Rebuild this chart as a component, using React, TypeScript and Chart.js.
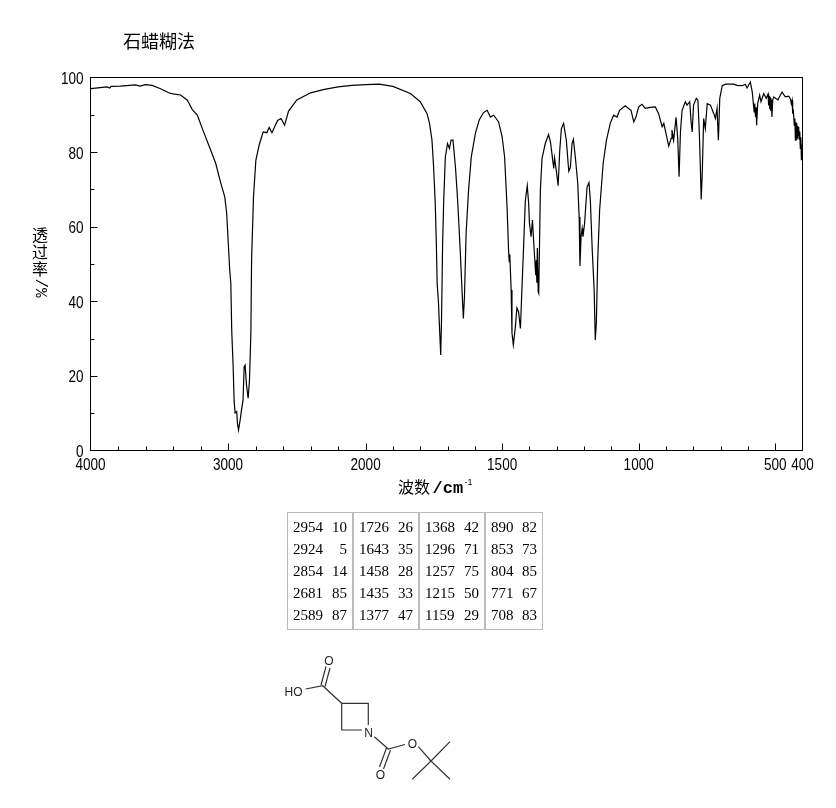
import { useEffect, useRef } from 'react';
import { Chart, LinearScale, registerables } from 'chart.js';

// x axis is compressed above 2000 cm-1, like the printed IR charts
const SPLIT_WAVENUMBER = 2000;
const SPLIT_FRACTION = 0.3864;

const majorTicks = [4000, 3000, 2000, 1500, 1000, 500];
const minorTicks = [
  3800, 3600, 3400, 3200, 2800, 2600, 2400, 2200, 1900, 1800, 1700, 1600, 1400, 1300, 1200, 1100,
  900, 800, 700, 600,
];
const labelledTicks = [4000, 3000, 2000, 1500, 1000, 500, 400];

const waveNumbers = [
  3997, 3930, 3880, 3860, 3850, 3783, 3674, 3640, 3600, 3552, 3491, 3431, 3400, 3345, 3296, 3260, 3223, 3187, 3126, 3090, 3053, 3024,
  3010, 2997, 2988, 2980, 2973, 2963, 2956, 2949, 2937, 2932, 2924, 2912, 2902, 2891, 2883, 2876,
  2866, 2854, 2844, 2834, 2829, 2815, 2798, 2774, 2745, 2718, 2701, 2681, 2640, 2615, 2589, 2560,
  2500, 2400, 2300, 2200, 2100, 2000, 1950, 1900, 1836, 1800, 1775, 1766, 1757, 1751, 1745, 1741,
  1738, 1733, 1729, 1725, 1722, 1718, 1714, 1708, 1700, 1693, 1687, 1680, 1671, 1663, 1653, 1647,
  1642, 1638, 1632, 1623, 1613, 1598, 1584, 1568, 1555, 1543, 1531, 1513, 1500, 1491, 1482, 1476,
  1474, 1472, 1467, 1464, 1459, 1452, 1446, 1440, 1433, 1427, 1421, 1415, 1408, 1403, 1400, 1394,
  1389, 1382, 1377, 1375, 1373, 1371, 1368, 1366, 1360, 1354, 1342, 1330, 1323, 1317, 1311, 1308, 1301, 1295, 1289,
  1283, 1275, 1265, 1256, 1250, 1244, 1239, 1232, 1223, 1218, 1215, 1211, 1207, 1204, 1198, 1189,
  1182, 1177, 1170, 1163, 1159, 1155, 1150, 1143, 1130, 1118, 1104, 1092, 1079, 1070, 1049, 1037,
  1028, 1018, 1010, 1000, 988, 976, 957, 939, 927, 914, 908, 900, 890, 881, 878, 872, 863, 857, 852,
  847, 841, 829, 823, 813, 808, 804, 799, 789, 783, 778, 774, 771, 767, 762, 756, 749, 737, 725, 719,
  713, 708, 703, 694, 682, 652, 640, 621, 609, 603, 591, 584, 577, 575, 572, 570, 568, 564, 557, 552, 542, 533,
  526, 524, 522, 520, 518, 516, 514, 512, 509, 505, 490, 475, 463, 450, 444, 441, 438, 436, 434, 430, 428, 426, 424, 423, 421, 419, 418, 416, 414, 412, 410, 408, 406, 404, 403, 401,
];
const transmittance = [
  97.0, 97.3, 97.5, 97.2, 97.6, 97.7, 98.0, 97.7, 98.1, 97.9, 97.0, 95.9, 95.6, 95.3, 93.9, 91.4, 89.9, 86.3, 80.5, 77.0, 71.7, 68.0,
  63.6, 54.6, 48.4, 44.9, 31.8, 22.5, 13.5, 10.1, 10.4, 7.4, 5.5, 8.2, 10.9, 13.5, 22.5, 22.9,
  17.6, 14.0, 18.9, 31.8, 51.0, 68.0, 77.8, 81.9, 85.4, 85.2, 86.6, 85.2, 88.5, 89.0, 87.2, 91.0,
  94.0, 95.9, 96.8, 97.5, 97.9, 98.1, 98.2, 97.6, 95.7, 93.5, 90.3, 87.7, 83.2, 76.0, 66.2, 55.5,
  44.8, 39.4, 32.3, 25.6, 35.0, 55.5, 67.1, 78.7, 82.3, 81.0, 83.2, 83.2, 76.0, 67.1, 52.8, 43.0,
  35.4, 41.2, 58.2, 69.8, 78.7, 85.0, 88.6, 90.6, 91.2, 89.4, 89.9, 88.1, 84.1, 78.7, 65.3, 52.8,
  50.6, 52.6, 43.0, 31.5, 28.3, 32.8, 38.2, 37.2, 32.7, 44.3, 55.5, 67.1, 71.0, 66.3, 61.0, 57.3,
  61.8, 52.8, 47.0, 51.0, 45.0, 54.3, 42.5, 42.1, 69.8, 78.3, 82.3, 84.7, 82.7, 79.2, 75.6, 78.4, 74.7, 71.0, 80.5,
  86.3, 87.7, 83.2, 74.9, 76.0, 82.3, 83.4, 78.7, 71.6, 62.6, 49.5, 57.3, 59.5, 57.3, 60.9, 70.7,
  71.8, 67.1, 53.7, 43.0, 29.6, 34.2, 51.0, 64.4, 77.0, 83.2, 87.7, 89.9, 89.4, 91.2, 92.4, 91.7,
  91.2, 88.1, 89.4, 92.1, 92.8, 91.7, 92.0, 92.1, 90.3, 86.8, 87.7, 85.0, 81.6, 83.7, 85.9, 83.2, 89.3, 83.7, 73.4,
  85.4, 91.2, 93.5, 92.6, 93.5, 88.1, 85.4, 92.6, 94.4, 93.9, 85.4, 75.7, 67.3, 74.7, 89.0, 86.3, 93.0, 92.6, 90.3, 89.0,
  91.7, 83.2, 94.4, 97.8, 98.2, 98.2, 97.9, 97.8, 98.2, 97.2, 98.8, 96.1, 90.8, 93.0, 89.4, 92.0, 87.2, 93.0, 95.3, 93.5, 95.7, 94.4,
  95.6, 92.5, 95.0, 91.5, 94.6, 91.0, 94.0, 89.4, 94.0, 94.8, 94.0, 96.1, 94.8, 95.0, 94.2, 93.0, 93.9, 90.3, 91.5, 87.2, 89.0, 83.2, 88.0, 83.5, 87.7, 83.8, 87.0, 84.5, 86.8, 83.5, 85.5, 81.0, 84.0, 78.0, 82.0, 77.8,
];

// peak list printed under the spectrum, one pair of arrays per column
const peakWaves = [
  [2954, 2924, 2854, 2681, 2589],
  [1726, 1643, 1458, 1435, 1377],
  [1368, 1296, 1257, 1215, 1159],
  [890, 853, 804, 771, 708],
];
const peakValues = [
  [10, 5, 14, 85, 87],
  [26, 35, 28, 33, 47],
  [42, 71, 75, 50, 29],
  [82, 73, 85, 67, 83],
];
const peakColumnWidths = [66, 66, 66, 58];

class WavenumberScale extends LinearScale {
  static id = 'wavenumber';
  static defaults = {};

  buildTicks() {
    const values = [...majorTicks, ...minorTicks, 400].sort((a, b) => b - a);
    return values.map(value => ({ value, major: majorTicks.includes(value) }));
  }

  getPixelForValue(value: number) {
    const decimal =
      value >= SPLIT_WAVENUMBER
        ? ((4000 - value) / (4000 - SPLIT_WAVENUMBER)) * SPLIT_FRACTION
        : SPLIT_FRACTION + ((SPLIT_WAVENUMBER - value) / (SPLIT_WAVENUMBER - 400)) * (1 - SPLIT_FRACTION);
    return this.getPixelForDecimal(decimal);
  }
}

// the original tick font is a narrow bitmap face, so squeeze a normal one
function squeezedLabel(ctx: any, text: string, px: number, py: number, align: string) {
  ctx.save();
  ctx.translate(px, py);
  ctx.scale(0.82, 1);
  ctx.textAlign = align;
  ctx.textBaseline = 'middle';
  ctx.font = '16.5px "Liberation Sans"';
  ctx.fillText(text, 0, 0);
  ctx.restore();
}

// frame, inward tick marks, tick labels and the hand placed captions
const spectrumFrame = {
  id: 'spectrumFrame',
  afterDraw(chart: any) {
    const { ctx, chartArea } = chart;
    const { left, right, top, bottom } = chartArea;
    const { x, y } = chart.scales;
    ctx.save();
    ctx.strokeStyle = '#000';
    ctx.lineWidth = 1;
    ctx.strokeRect(left, top, right - left, bottom - top);
    ctx.beginPath();
    x.ticks.forEach((tick: any) => {
      if (tick.value === 400 || tick.value === 4000) return;
      const px = Math.round(x.getPixelForValue(tick.value)) + 0.5;
      ctx.moveTo(px, bottom);
      ctx.lineTo(px, bottom - (tick.major ? 7 : 4));
    });
    y.ticks.forEach((tick: any) => {
      if (tick.value === 0 || tick.value === 100) return;
      const py = Math.round(y.getPixelForValue(tick.value)) + 0.5;
      ctx.moveTo(left, py);
      ctx.lineTo(left + (tick.value % 20 === 0 ? 7 : 4), py);
    });
    ctx.stroke();

    ctx.fillStyle = '#000';
    x.ticks.forEach((tick: any) => {
      if (tick.label) squeezedLabel(ctx, tick.label, x.getPixelForValue(tick.value), bottom + 15, 'center');
    });
    y.ticks.forEach((tick: any) => {
      if (tick.label) squeezedLabel(ctx, tick.label, left - 7, y.getPixelForValue(tick.value) + 2, 'right');
    });

    ctx.textBaseline = 'alphabetic';
    ctx.textAlign = 'left';
    ctx.font = '18px "Noto Sans CJK SC"';
    ctx.fillText('石蜡糊法', 123, 48);

    ctx.font = '16px "Noto Sans CJK SC"';
    ctx.fillText('波数', 398, 493);
    ctx.font = 'bold 17px "Liberation Mono"';
    ctx.fillText('/cm', 432.5, 493);
    ctx.font = '9px "Liberation Sans"';
    ctx.fillText('-1', 464.5, 485);

    ctx.textAlign = 'center';
    ctx.font = '16px "Noto Sans CJK SC"';
    ctx.fillText('透', 40, 241);
    ctx.fillText('过', 40, 258);
    ctx.fillText('率', 40, 275);
    ctx.translate(40, 288);
    ctx.rotate(Math.PI / 2);
    ctx.textAlign = 'center';
    ctx.textBaseline = 'middle';
    ctx.font = '16px "Liberation Mono"';
    ctx.fillText('/%', 0, 0);
    ctx.restore();
  },
};

Chart.register(...registerables, WavenumberScale);

export default function App() {
  const canvasRef = useRef<HTMLCanvasElement>(null);

  useEffect(() => {
    if (!canvasRef.current) return;
    const chart = new Chart(canvasRef.current, {
      type: 'line',
      data: {
        datasets: [
          {
            data: waveNumbers.map((x, i) => ({ x, y: transmittance[i] })),
            borderColor: '#000',
            borderWidth: 1.2,
            pointRadius: 0,
            tension: 0,
          },
        ],
      },
      options: {
        animation: false,
        responsive: false,
        layout: { padding: { left: 0, top: 77.5, right: 33.5, bottom: 317.5 } },
        plugins: { legend: { display: false }, tooltip: { enabled: false } },
        scales: {
          x: {
            type: 'wavenumber' as any,
            min: 400,
            max: 4000,
            afterFit: (scale: any) => {
              scale.height = 40;
            },
            grid: { display: false, drawTicks: false },
            border: { display: false },
            ticks: {
              display: false,
              autoSkip: false,
              callback: (value: any) => (labelledTicks.includes(value) ? String(value) : ''),
            },
          },
          y: {
            min: 0,
            max: 100,
            afterFit: (scale: any) => {
              scale.width = 90.5;
            },
            grid: { display: false, drawTicks: false },
            border: { display: false },
            ticks: {
              display: false,
              stepSize: 10,
              autoSkip: false,
              callback: (value: any) => (value % 20 === 0 ? String(value) : ''),
            },
          },
        },
      },
      plugins: [spectrumFrame],
    });
    return () => chart.destroy();
  }, []);

  return (
    <div style={{ position: 'absolute', left: 0, top: 0, width: 836, height: 808, background: '#fff' }}>
      <canvas ref={canvasRef} width={836} height={808} style={{ display: 'block' }} />

      <div
        style={{
          position: 'absolute',
          left: 287,
          top: 512,
          display: 'flex',
          fontFamily: '"Liberation Serif", serif',
          fontSize: 15,
          lineHeight: '22px',
          color: '#000',
        }}
      >
        {peakWaves.map((waves, col) => (
          <div
            key={col}
            style={{
              width: peakColumnWidths[col],
              boxSizing: 'border-box',
              border: '1px solid #bbb',
              padding: '3px 5px',
            }}
          >
            {waves.map((wave, row) => (
              <div key={wave} style={{ display: 'flex', justifyContent: 'space-between' }}>
                <span>{wave}</span>
                <span>{peakValues[col][row]}</span>
              </div>
            ))}
          </div>
        ))}
      </div>

      <svg
        width={836}
        height={808}
        style={{ position: 'absolute', left: 0, top: 0, pointerEvents: 'none' }}
        stroke="#333"
        strokeWidth={1.2}
        fill="none"
      >
        <path d="M305.7 689L322.7 685.7L341.7 703.3H368.3V725M341.7 703.3V730H362" />
        <path d="M321 685L326 666.5M325 686.5L330 668" />
        <path d="M374.3 736.7L388.3 749L405 744.5M418.3 746.7L431 761L450 741.7M431 761L412.3 779.3M431 761L450 779.3" />
        <path d="M386.5 748L379.5 767M390.5 750L383.5 769" />
        <g fontFamily='"Liberation Sans", sans-serif' fontSize={12} fill="#222" stroke="none" textAnchor="middle">
          <text x={329} y={665}>O</text>
          <text x={293.5} y={696}>HO</text>
          <text x={368.5} y={736.5}>N</text>
          <text x={412.5} y={747.5}>O</text>
          <text x={380.5} y={779}>O</text>
        </g>
      </svg>
    </div>
  );
}
